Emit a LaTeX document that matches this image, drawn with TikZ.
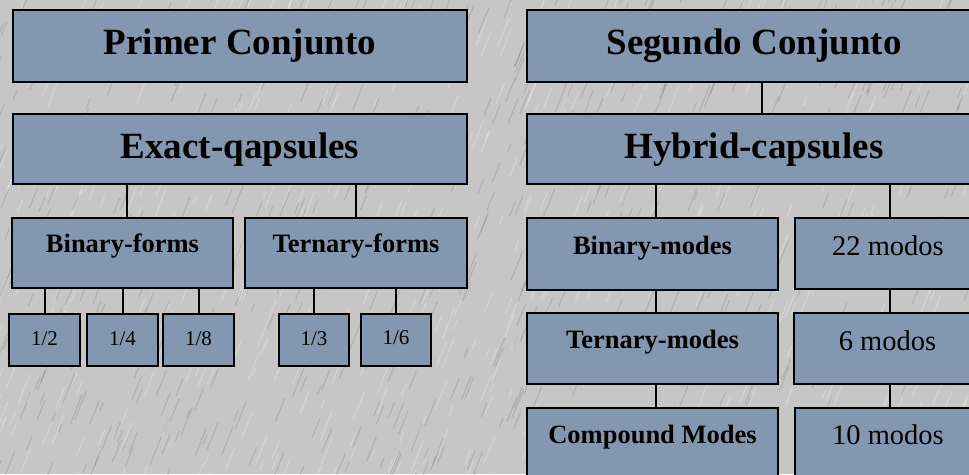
\documentclass[tikz,border=0pt]{standalone}
\usepackage{fontspec}
\setmainfont{Liberation Serif}
\definecolor{boxfill}{HTML}{8497B0}
\definecolor{bggray}{HTML}{C6C6C6}
\tikzset{
  box/.style={draw=black, line width=2pt, fill=boxfill, rectangle, inner sep=0pt, anchor=north west, align=center},
  conn/.style={draw=black, line width=2pt},
  big/.style={font=\fontsize{37}{40}\selectfont\bfseries},
  mid/.style={font=\fontsize{26.5}{30}\selectfont\bfseries},
  num/.style={font=\fontsize{28.5}{32}\selectfont},
  frac/.style={font=\fontsize{21}{24}\selectfont},
  streakdark/.style={draw=black, draw opacity=0.10, line width=1.2pt},
  streaklight/.style={draw=white, draw opacity=0.22, line width=1.2pt},
}
\begin{document}
\begin{tikzpicture}[x=1pt,y=-1pt]
\useasboundingbox (0,0) rectangle (969,474);
\clip (0,0) rectangle (969,474);
\fill[bggray] (0,0) rectangle (969,474);
% background texture
\pgfmathsetseed{4242}
\foreach \i in {1,...,700}{
  \pgfmathsetmacro\xx{rnd*1010-30}
  \pgfmathsetmacro\yy{rnd*500}
  \pgfmathsetmacro\ll{8+rnd*22}
  \draw[streakdark] (\xx,\yy) -- ++(0.4*\ll,-\ll);
}
\foreach \i in {1,...,700}{
  \pgfmathsetmacro\xx{rnd*1010-30}
  \pgfmathsetmacro\yy{rnd*500}
  \pgfmathsetmacro\ll{8+rnd*22}
  \draw[streaklight] (\xx,\yy) -- ++(0.4*\ll,-\ll);
}

% left tree
\node[box,big,minimum width=454pt,minimum height=72pt,text height=44pt,text depth=28pt] (P1) at (12,9) {Primer Conjunto};
\node[box,big,minimum width=454pt,minimum height=70pt,text height=44pt,text depth=26pt] (E1) at (12,113) {Exact-qapsules};
\node[box,mid,minimum width=221pt,minimum height=70pt,text height=34pt,text depth=36pt] (BF) at (11,217) {Binary-forms};
\node[box,mid,minimum width=222pt,minimum height=70pt,text height=34pt,text depth=36pt] (TF) at (244,217) {Ternary-forms};
\node[box,frac,minimum width=71pt,minimum height=52pt,text height=31pt,text depth=21pt] (h2) at (8,313) {1/2};
\node[box,frac,minimum width=71pt,minimum height=52pt,text height=31pt,text depth=21pt] (h4) at (86,313) {1/4};
\node[box,frac,minimum width=71pt,minimum height=52pt,text height=31pt,text depth=21pt] (h8) at (162,313) {1/8};
\node[box,frac,minimum width=70pt,minimum height=52pt,text height=31pt,text depth=21pt] (h3) at (278,313) {1/3};
\node[box,frac,minimum width=70pt,minimum height=52pt,text height=30pt,text depth=22pt] (h6) at (360,313) {1/6};

\coordinate (k1) at (127,0);
\draw[conn] (E1.south -| k1) -- (BF.north -| k1);
\draw[conn] (E1.south -| TF.north) -- (TF.north);
\foreach \n in {h2,h4,h8} \draw[conn] (BF.south -| \n.north) -- (\n.north);
\foreach \n in {h3,h6} \draw[conn] (TF.south -| \n.north) -- (\n.north);

% right tree
\node[box,big,minimum width=454pt,minimum height=72pt,text height=44pt,text depth=28pt] (S) at (526,9) {Segundo Conjunto};
\node[box,big,minimum width=454pt,minimum height=70pt,text height=44pt,text depth=26pt] (H) at (526,113) {Hybrid-capsules};
\node[box,mid,minimum width=251pt,minimum height=72pt,text height=36pt,text depth=36pt] (BM) at (526,217) {Binary-modes};
\node[box,mid,minimum width=251pt,minimum height=71pt,text height=35pt,text depth=36pt] (TM) at (526,312) {Ternary-modes};
\node[box,mid,minimum width=251pt,minimum height=72pt,text height=35pt,text depth=37pt] (CM) at (526,407) {Compound Modes};
\node[box,num,minimum width=186pt,minimum height=71pt,text height=37pt,text depth=34pt] (M22) at (794,217) {22 modos};
\node[box,num,minimum width=187pt,minimum height=71pt,text height=37pt,text depth=34pt] (M6) at (793,312) {6 modos};
\node[box,num,minimum width=186pt,minimum height=72pt,text height=36pt,text depth=36pt] (M10) at (794,407) {10 modos};

\coordinate (k2) at (762,0);
\coordinate (k3) at (656,0);
\coordinate (k4) at (890,0);
\draw[conn] (S.south -| k2) -- (H.north -| k2);
\draw[conn] (H.south -| k3) -- (BM.north -| k3);
\draw[conn] (BM.south -| k3) -- (TM.north -| k3);
\draw[conn] (TM.south -| k3) -- (CM.north -| k3);
\draw[conn] (H.south -| k4) -- (M22.north -| k4);
\draw[conn] (M22.south -| k4) -- (M6.north -| k4);
\draw[conn] (M6.south -| k4) -- (M10.north -| k4);
\end{tikzpicture}
\end{document}
